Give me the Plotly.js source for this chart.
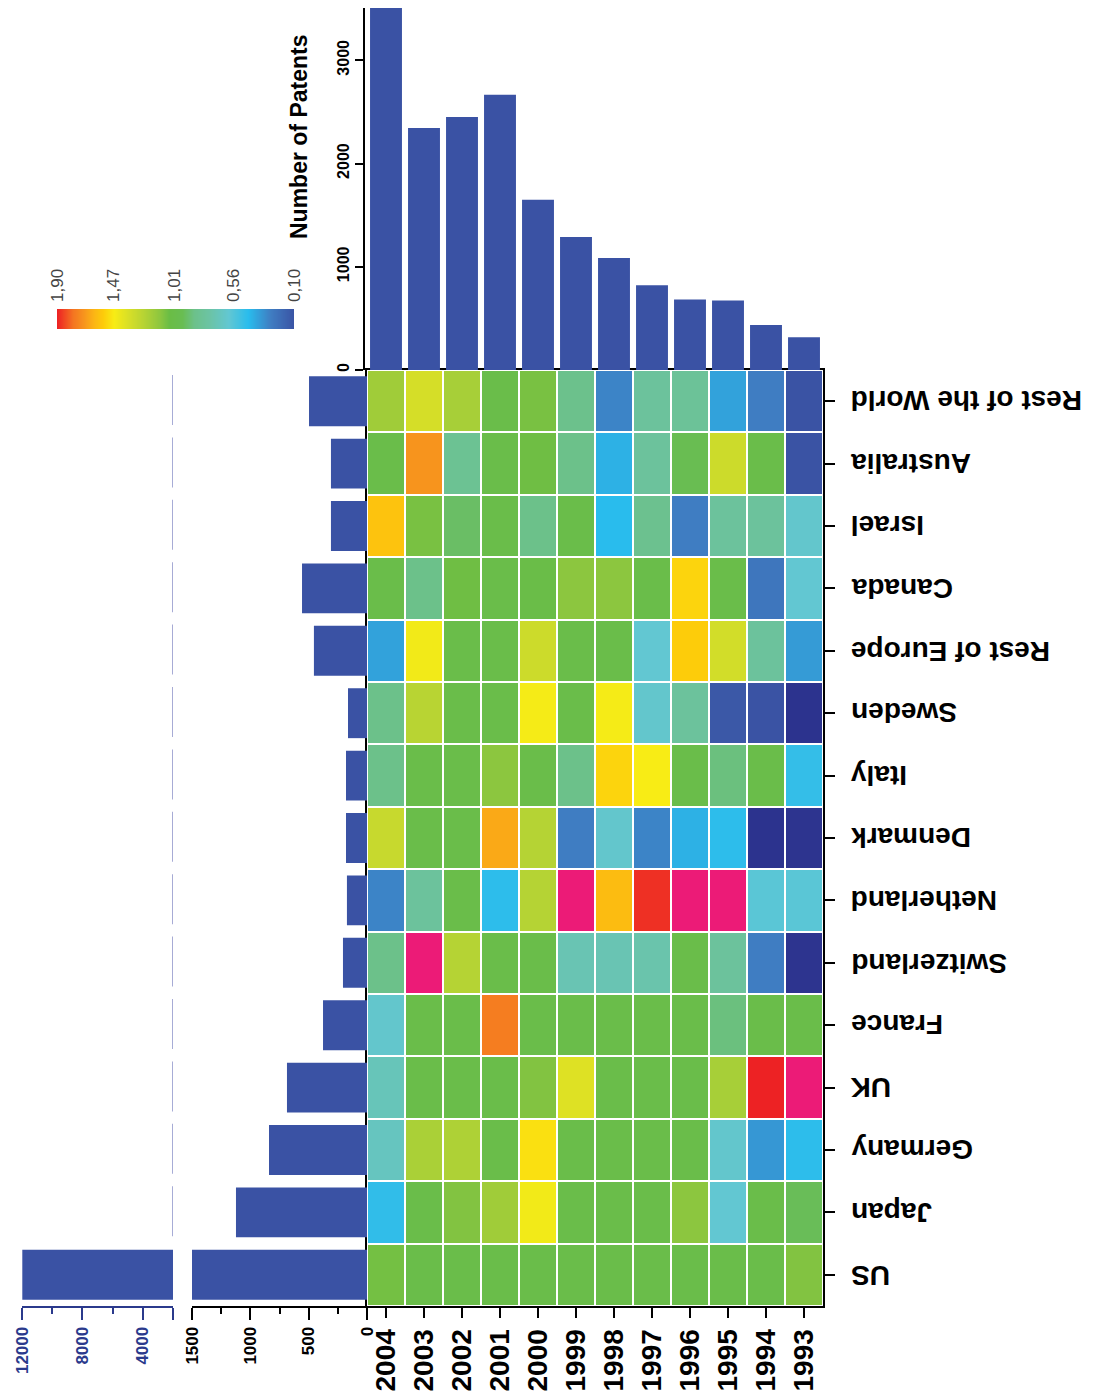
<!DOCTYPE html>
<html>
<head>
<meta charset="utf-8">
<script src="https://cdn.plot.ly/plotly-3.0.1.min.js"></script>
<style>
  html, body { margin: 0; padding: 0; background: #ffffff; }
  #chart { width: 1106px; height: 1397px; }
</style>
</head>
<body>
<div id="chart"></div>
<script>
// ---------------- DATA ----------------
const years = ['2004','2003','2002','2001','2000','1999','1998','1997','1996','1995','1994','1993'];
const yearPatents = [3506, 2344, 2451, 2666, 1649, 1289, 1084, 821, 682, 672, 435, 318];

const countries = ['Rest of the World','Australia','Israel','Canada','Rest of Europe','Sweden','Italy',
                   'Denmark','Netherland','Switzerland','France','UK','Germany','Japan','US'];
const countryPatents = [497, 309, 309, 557, 455, 163, 180, 180, 172, 206, 377, 686, 840, 1123, 11980];

// relative index per country (rows) and year (columns 2004 ... 1993)
const rRestWorld   = [1.18,1.35,1.20,1.01,1.08,0.85,0.30,0.78,0.80,0.38,0.28,0.10];
const rAustralia   = [1.01,1.70,0.82,1.01,1.06,0.86,0.42,0.78,0.95,1.32,1.01,0.10];
const rIsrael      = [1.58,1.08,0.92,1.01,0.86,1.01,0.45,0.84,0.28,0.78,0.78,0.62];
const rCanada      = [1.01,0.86,1.06,1.01,1.03,1.12,1.12,1.01,1.53,1.01,0.25,0.60];
const rRestEurope  = [0.38,1.45,1.01,1.01,1.32,1.01,1.01,0.60,1.55,1.34,0.78,0.36];
const rSweden      = [0.86,1.25,1.01,1.01,1.46,1.01,1.46,0.62,0.78,0.12,0.10,0.02];
const rItaly       = [0.86,1.01,1.01,1.12,1.01,0.86,1.53,1.47,1.01,0.88,1.01,0.48];
const rDenmark     = [1.30,1.01,1.01,1.65,1.24,0.28,0.62,0.30,0.42,0.46,0.02,0.03];
const rNetherland  = [0.30,0.78,1.01,0.46,1.24,2.05,1.60,1.88,2.05,2.05,0.58,0.58];
const rSwitzerland = [0.86,2.05,1.24,1.01,1.01,0.70,0.70,0.72,1.01,0.78,0.28,0.03];
const rFrance      = [0.62,1.01,1.01,1.76,1.01,1.01,1.01,1.01,1.01,0.88,1.01,1.01];
const rUK          = [0.68,1.01,1.01,1.01,1.10,1.38,1.01,1.01,1.01,1.20,1.90,2.05];
const rGermany     = [0.66,1.21,1.22,1.01,1.50,1.01,1.01,1.01,1.01,0.62,0.35,0.46];
const rJapan       = [0.47,1.01,1.10,1.18,1.45,1.01,1.01,1.01,1.12,0.60,1.01,0.94];
const rUS          = [1.07,1.01,1.01,1.01,1.01,1.01,1.01,1.01,1.01,1.01,1.01,1.10];

const ratio = [rRestWorld, rAustralia, rIsrael, rCanada, rRestEurope, rSweden, rItaly,
               rDenmark, rNetherland, rSwitzerland, rFrance, rUK, rGermany, rJapan, rUS];

// colour key
const keyTickVals = [1.90, 1.47, 1.01, 0.56, 0.10];
const keyTickText = ['1,90', '1,47', '1,01', '0,56', '0,10'];
const keyRange = [0.10, 1.90];

// axis tick values / labels
const lowTicks = [0, 500, 1000, 1500];
const highTicks = [2000, 4000, 8000, 12000];
const highTickText = ['', '4000', '8000', '12000'];
const topTicks = [0, 1000, 2000, 3000];

// ---------------- STYLE ----------------
const ZMIN = 0, ZMAX = 2.1;
const stops = [
  [0.00, '#2b2f8c'], [0.08, '#2f3d95'], [0.10, '#3a53a4'], [0.28, '#3f7dc2'],
  [0.45, '#29bced'], [0.60, '#62c7d2'], [0.75, '#6cc3a3'], [0.86, '#6cc18a'],
  [0.95, '#69bd52'], [1.05, '#6abd45'], [1.12, '#8cc63f'], [1.25, '#b8d433'],
  [1.36, '#d8df27'], [1.47, '#f8ec15'], [1.55, '#fdcc0a'], [1.62, '#fcb614'],
  [1.70, '#f7941d'], [1.78, '#f47521'], [1.90, '#ed2224'], [1.97, '#ec1c6e'],
  [2.10, '#ec1b7d']
];
const colorscale = stops.map(s => [(s[0] - ZMIN) / (ZMAX - ZMIN), s[1]]);

const W = 1106, H = 1397;
const px = v => v / W;
const py = v => 1 - v / H;

const FONT = 'Liberation Sans, Arial, Helvetica, sans-serif';
const BAR = '#3a52a4';
const NAVY = '#2b3a8c';

const hmX = [px(367), px(823)];
const hmY = [py(1306), py(370)];

const traces = [
  {
    type: 'heatmap', x: years, y: countries, z: ratio,
    xaxis: 'x', yaxis: 'y', colorscale: colorscale, zmin: ZMIN, zmax: ZMAX,
    showscale: false, xgap: 2, ygap: 2, hoverinfo: 'x+y+z'
  },
  {
    type: 'bar', x: years, y: yearPatents, xaxis: 'x2', yaxis: 'y2',
    marker: { color: BAR }, width: 0.84
  },
  {
    type: 'bar', orientation: 'h', x: countryPatents, y: countries, xaxis: 'x3', yaxis: 'y3',
    marker: { color: BAR }, width: 0.8
  },
  {
    type: 'bar', orientation: 'h', x: countryPatents, y: countries, xaxis: 'x4', yaxis: 'y4',
    marker: { color: BAR }, width: 0.8
  },
  {
    type: 'heatmap', x: keyRange, y: [0, 1], z: [keyRange, keyRange],
    xaxis: 'x5', yaxis: 'y5', colorscale: colorscale, zmin: ZMIN, zmax: ZMAX,
    zsmooth: 'best', showscale: false, hoverinfo: 'skip'
  }
];

// upside-down country labels on the right of the heat map
const countryLabels = countries.map(c => ({
  text: c, xref: 'paper', yref: 'y', x: px(849), y: c,
  textangle: 180, showarrow: false, xanchor: 'left', yanchor: 'middle',
  font: { size: 28, weight: 700, family: FONT, color: '#000' }
}));

const layout = {
  width: W, height: H,
  margin: { l: 0, r: 0, t: 0, b: 0 },
  paper_bgcolor: '#ffffff', plot_bgcolor: '#ffffff',
  showlegend: false,
  font: { family: FONT, color: '#000000' },

  xaxis: {
    domain: hmX, anchor: 'y', type: 'category',
    ticks: 'outside', ticklen: 10, tickwidth: 2, tickcolor: '#000',
    tickangle: -90, tickfont: { size: 28, weight: 700, family: FONT, color: '#000' },
    showline: true, mirror: true, linecolor: '#000', linewidth: 2,
    showgrid: false, zeroline: false
  },
  yaxis: {
    domain: hmY, anchor: 'x', type: 'category', side: 'right', autorange: 'reversed',
    ticks: 'outside', ticklen: 10, tickwidth: 2, tickcolor: '#000',
    showticklabels: false,
    showline: true, mirror: true, linecolor: '#000', linewidth: 2,
    showgrid: false, zeroline: false
  },

  xaxis2: {
    domain: hmX, anchor: 'y2', type: 'category',
    showticklabels: false, ticks: '', showline: false, showgrid: false, zeroline: false
  },
  yaxis2: {
    domain: [py(370), py(8)], anchor: 'free', position: px(364),
    range: [0, 3506], tickmode: 'array', tickvals: topTicks,
    ticks: 'outside', ticklen: 8, tickwidth: 2, tickcolor: '#000',
    tickangle: -90, tickfont: { size: 16, weight: 700, family: FONT, color: '#000' },
    showline: true, linecolor: '#000', linewidth: 2, showgrid: false, zeroline: false
  },

  xaxis3: {
    domain: [px(192), px(367)], anchor: 'y3', range: [1500, 0],
    tickmode: 'array', tickvals: lowTicks,
    ticks: 'outside', ticklen: 12, tickwidth: 2, tickcolor: '#000',
    minor: { tickmode: 'array', tickvals: [250, 750, 1250], ticks: 'outside', ticklen: 6, tickwidth: 2, tickcolor: '#000' },
    tickangle: -90, tickfont: { size: 17, weight: 700, family: FONT, color: '#000' },
    showline: true, linecolor: '#000', linewidth: 2, showgrid: false, zeroline: false
  },
  yaxis3: {
    domain: hmY, anchor: 'x3', type: 'category', autorange: 'reversed', visible: false
  },

  xaxis4: {
    domain: [px(22), px(173)], anchor: 'y4', range: [12000, 2000],
    tickmode: 'array', tickvals: highTicks, ticktext: highTickText,
    ticks: 'outside', ticklen: 12, tickwidth: 2, tickcolor: NAVY,
    minor: { tickmode: 'array', tickvals: [6000, 10000], ticks: 'outside', ticklen: 6, tickwidth: 2, tickcolor: NAVY },
    tickangle: -90, tickfont: { size: 17, weight: 700, family: FONT, color: NAVY },
    showline: true, linecolor: NAVY, linewidth: 2, showgrid: false, zeroline: false
  },
  yaxis4: {
    domain: hmY, anchor: 'x4', type: 'category', autorange: 'reversed', visible: false
  },

  xaxis5: {
    domain: [px(57), px(294)], anchor: 'y5', range: [1.90, 0.10], side: 'top',
    tickmode: 'array', tickvals: keyTickVals, ticktext: keyTickText,
    ticks: '', ticklabelstandoff: 6, tickangle: -90,
    tickfont: { size: 17, family: FONT, color: '#444' },
    showline: false, showgrid: false, zeroline: false
  },
  yaxis5: {
    domain: [py(329), py(309)], anchor: 'x5', range: [0, 1], visible: false
  },

  shapes: [
    {
      type: 'line', xref: 'x4', x0: 2000, x1: 2000, yref: 'paper',
      y0: py(375), y1: py(1240),
      line: { color: '#8a90c8', width: 1.5, dash: '50px,12.4px' }
    }
  ],

  annotations: [
    {
      text: 'Number of Patents', xref: 'paper', yref: 'paper',
      x: px(299), y: py(137), textangle: -90, showarrow: false,
      xanchor: 'center', yanchor: 'middle',
      font: { size: 23, weight: 700, family: FONT, color: '#000' }
    }
  ].concat(countryLabels)
};

Plotly.newPlot('chart', traces, layout, { displayModeBar: false, staticPlot: true });
</script>
</body>
</html>
